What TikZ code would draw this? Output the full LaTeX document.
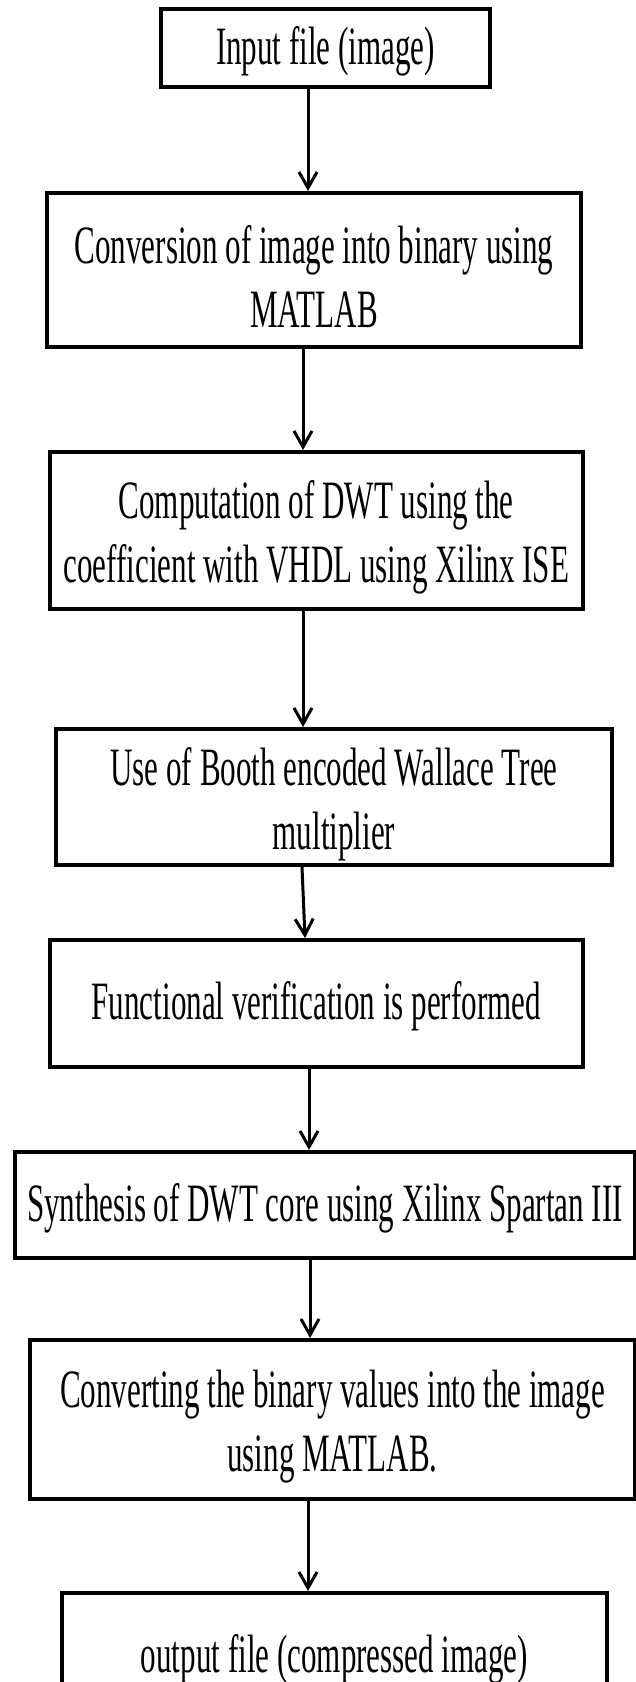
\documentclass[tikz,border=0pt]{standalone}
\usepackage{fontspec}
\setmainfont{Liberation Serif}[FakeStretch=0.575]
\usetikzlibrary{arrows.meta}
\newcommand{\tallstrut}{\rule{0pt}{52pt}}
\newcommand{\midstrut}{\rule{0pt}{44pt}}
\begin{document}
\begin{tikzpicture}[x=1pt,y=-1pt,
  box/.style={draw=black, line width=4pt, rectangle, inner sep=0pt, align=center,
              font=\fontsize{54}{64}\selectfont},
  arr/.style={line width=3pt, -{Straight Barb[length=16pt,width=18pt,line width=3pt]}}]
\useasboundingbox (0,0) rectangle (636,1682);
\clip (0,0) rectangle (636,1682);
\fill[white] (0,0) rectangle (636,1682);

\node[box, minimum width=329pt, minimum height=78pt] (b1) at (325.5,48) {\midstrut Input file (image)};
\node[box, minimum width=534pt, minimum height=154pt] (b2) at (314,270) {\tallstrut Conversion of image into binary using\\MATLAB};
\node[box, minimum width=533.5pt, minimum height=157pt] (b3) at (316.25,530.5) {\tallstrut Computation of DWT using the\\coefficient with VHDL using Xilinx ISE};
\node[box, minimum width=556pt, minimum height=136pt] (b4) at (334,797) {\tallstrut Use of Booth encoded Wallace Tree\\multiplier};
\node[box, minimum width=533.5pt, minimum height=127pt] (b5) at (316.25,1003.5) {\midstrut Functional verification is performed};
\node[box, minimum width=620pt, minimum height=106pt] (b6) at (325,1205) {\midstrut Synthesis of DWT core using Xilinx Spartan III};
\node[box, minimum width=605pt, minimum height=159pt] (b7) at (332.5,1419.5) {\tallstrut Converting the binary values into the image\\using MATLAB.};
\node[box, minimum width=545pt, minimum height=127pt] (b8) at (334.5,1656.5) {\midstrut output file (compressed image)};

\coordinate (x1) at (308,0);
\coordinate (x2) at (303,0);
\coordinate (x3) at (303,0);
\coordinate (x4a) at (302,0);
\coordinate (x4b) at (305,0);
\coordinate (x5) at (309,0);
\coordinate (x6) at (310,0);
\coordinate (x7) at (308,0);

\draw[arr] (b1.south -| x1) -- (b2.north -| x1);
\draw[arr] (b2.south -| x2) -- (b3.north -| x2);
\draw[arr] (b3.south -| x3) -- (b4.north -| x3);
\draw[arr] (b4.south -| x4a) -- (b5.north -| x4b);
\draw[arr] (b5.south -| x5) -- (b6.north -| x5);
\draw[arr] (b6.south -| x6) -- (b7.north -| x6);
\draw[arr] (b7.south -| x7) -- (b8.north -| x7);
\end{tikzpicture}
\end{document}
